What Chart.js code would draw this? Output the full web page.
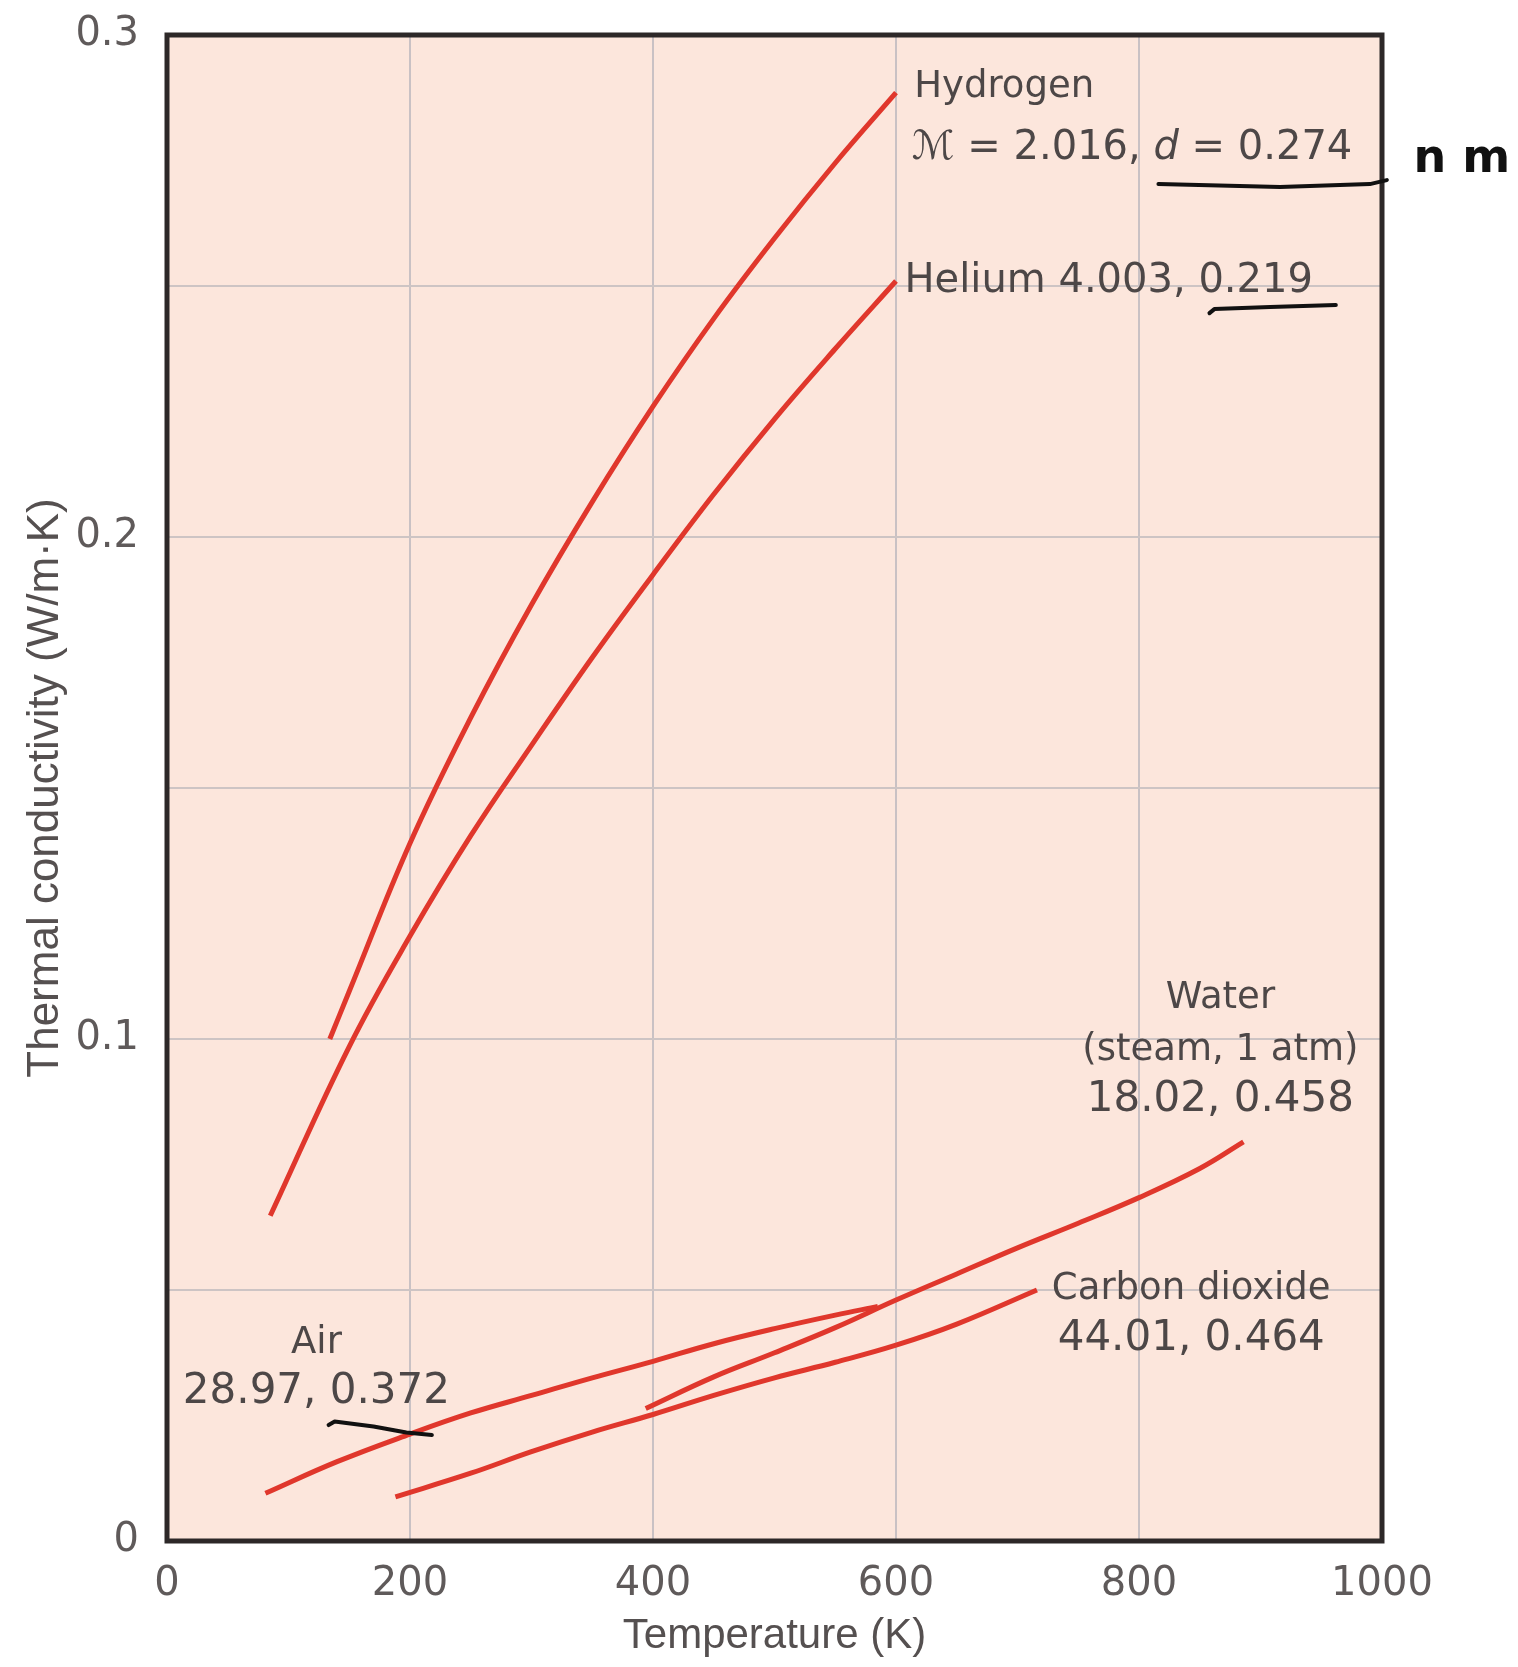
<!DOCTYPE html>
<html>
<head>
<meta charset="utf-8">
<script src="https://cdn.jsdelivr.net/npm/chart.js@4.4.1/dist/chart.umd.min.js"></script>
<style>
  html, body { margin: 0; padding: 0; background: #fff; }
  canvas { display: block; }
</style>
</head>
<body>
<canvas id="chart" width="1518" height="1667"></canvas>
<script>
// Thermal conductivity (W/m.K) against temperature (K)
const hydrogenT = [134, 150, 200, 250, 300, 350, 400, 450, 500, 550, 600];
const hydrogenK = [0.100, 0.1095, 0.139, 0.164, 0.1865, 0.207, 0.226, 0.2435, 0.2595, 0.2745, 0.2885];

const heliumT = [85, 150, 200, 250, 300, 350, 400, 450, 500, 550, 600];
const heliumK = [0.0648, 0.0985, 0.1205, 0.1405, 0.1585, 0.176, 0.1925, 0.2085, 0.2235, 0.2375, 0.251];

const airT = [81, 140, 200, 250, 300, 350, 400, 450, 500, 550, 585];
const airK = [0.0095, 0.0158, 0.0213, 0.0255, 0.029, 0.0325, 0.0358, 0.0393, 0.0423, 0.045, 0.0467];

const waterT = [394, 450, 500, 550, 600, 650, 700, 750, 800, 850, 886];
const waterK = [0.0264, 0.0327, 0.0375, 0.0425, 0.048, 0.0532, 0.0584, 0.0633, 0.0684, 0.0742, 0.0795];

const co2T = [188, 250, 300, 350, 400, 450, 500, 550, 600, 650, 716];
const co2K = [0.0088, 0.0135, 0.0178, 0.0217, 0.0252, 0.029, 0.0325, 0.0356, 0.039, 0.0432, 0.050];

const xTicks = [0, 200, 400, 600, 800, 1000];
const yTicks = [0, 0.1, 0.2, 0.3];

const RED = '#e0372c';
const TEXT = '#4d4747';

const toPoints = (xs, ys) => xs.map((x, i) => ({ x, y: ys[i] }));

function curve(label, xs, ys) {
  return {
    label,
    data: toPoints(xs, ys),
    showLine: true,
    borderColor: RED,
    borderWidth: 5,
    pointRadius: 0,
    tension: 0.4,
    borderCapStyle: 'butt'
  };
}

// curve labels, placed in data units (K, W/m.K)
const curveLabels = [
  { runs: [['Hydrogen', '']], x: 615, y: 0.2896, align: 'left', size: 37 },
  { runs: [['ℳ', 'italic '], [' = 2.016, ', ''], ['d', 'italic '], [' = 0.274', '']], x: 613, y: 0.2773, align: 'left', size: 40 },
  { runs: [['Helium 4.003, 0.219', '']], x: 607, y: 0.2508, align: 'left', size: 40 },
  { runs: [['Water', '']], x: 867, y: 0.108, align: 'center', size: 37 },
  { runs: [['(steam, 1 atm)', '']], x: 867, y: 0.0978, align: 'center', size: 37 },
  { runs: [['18.02, 0.458', '']], x: 867, y: 0.0878, align: 'center', size: 42 },
  { runs: [['Carbon dioxide', '']], x: 843, y: 0.0502, align: 'center', size: 37 },
  { runs: [['44.01, 0.464', '']], x: 843, y: 0.0402, align: 'center', size: 42 },
  { runs: [['Air', '']], x: 123, y: 0.0394, align: 'center', size: 37 },
  { runs: [['28.97, 0.372', '']], x: 123, y: 0.0297, align: 'center', size: 42 }
];

// hand-drawn pen marks on the scan
const penStrokes = [
  [[816, 0.2703], [916, 0.2697], [990, 0.2703], [1004, 0.2711]],
  [[858, 0.2446], [862, 0.2454], [908, 0.2458], [962, 0.2462]],
  [[133, 0.0231], [138, 0.0238], [170, 0.0228], [197, 0.0216], [218, 0.0211]]
];
const penNote = { text: 'n m', x: 1026, y: 0.2751 };

const plotFrame = {
  id: 'plotFrame',
  beforeDraw(chart) {
    const { ctx, chartArea: a } = chart;
    ctx.save();
    ctx.fillStyle = '#fce6dc';
    ctx.fillRect(a.left, a.top, a.right - a.left, a.bottom - a.top);
    ctx.restore();
  },
  afterDraw(chart) {
    const { ctx, chartArea: a, scales: { x, y } } = chart;
    ctx.save();
    ctx.strokeStyle = '#2d2828';
    ctx.lineWidth = 5;
    ctx.strokeRect(a.left, a.top, a.right - a.left, a.bottom - a.top);

    ctx.fillStyle = TEXT;
    ctx.textBaseline = 'middle';
    curveLabels.forEach(l => {
      const fonts = l.runs.map(r => r[1] + l.size + 'px "DejaVu Sans", sans-serif');
      const widths = l.runs.map((r, i) => { ctx.font = fonts[i]; return ctx.measureText(r[0]).width; });
      const total = widths.reduce((s, w) => s + w, 0);
      let px = x.getPixelForValue(l.x);
      if (l.align === 'center') px -= total / 2;
      const py = y.getPixelForValue(l.y);
      ctx.textAlign = 'left';
      l.runs.forEach((r, i) => {
        ctx.font = fonts[i];
        ctx.fillText(r[0], px, py);
        px += widths[i];
      });
    });

    ctx.strokeStyle = '#111';
    ctx.lineWidth = 4;
    ctx.lineCap = 'round';
    ctx.lineJoin = 'round';
    penStrokes.forEach(s => {
      ctx.beginPath();
      s.forEach((p, i) => {
        const px = x.getPixelForValue(p[0]);
        const py = y.getPixelForValue(p[1]);
        if (i === 0) ctx.moveTo(px, py); else ctx.lineTo(px, py);
      });
      ctx.stroke();
    });
    ctx.fillStyle = '#111';
    ctx.font = 'bold 46px "DejaVu Sans", sans-serif';
    ctx.textAlign = 'left';
    ctx.fillText(penNote.text, x.getPixelForValue(penNote.x), y.getPixelForValue(penNote.y));
    ctx.restore();
  }
};

new Chart(document.getElementById('chart'), {
  type: 'scatter',
  data: {
    datasets: [
      curve('Hydrogen', hydrogenT, hydrogenK),
      curve('Helium', heliumT, heliumK),
      curve('Air', airT, airK),
      curve('Water (steam, 1 atm)', waterT, waterK),
      curve('Carbon dioxide', co2T, co2K)
    ]
  },
  options: {
    responsive: false,
    animation: false,
    layout: { padding: { top: 35, right: 136, left: 0, bottom: 0 } },
    plugins: { legend: { display: false }, tooltip: { enabled: false } },
    scales: {
      x: {
        type: 'linear',
        min: 0,
        max: 1000,
        afterFit: s => { s.height = 126; },
        afterBuildTicks: s => { s.ticks = xTicks.map(v => ({ value: v })); },
        grid: { color: '#c9c1c4', lineWidth: 2, drawTicks: false },
        border: { display: false },
        ticks: {
          padding: 20,
          color: '#5f5a5a',
          font: { family: 'DejaVu Sans', size: 40 },
          callback: v => String(v)
        },
        title: {
          display: true,
          text: 'Temperature (K)',
          color: '#555050',
          font: { family: 'Liberation Sans', size: 42 },
          padding: { top: 0, bottom: 5 }
        }
      },
      y: {
        type: 'linear',
        min: 0,
        max: 0.3,
        afterFit: s => {
          s.width = 167;
          s.paddingTop = 0;
          s.paddingBottom = 0;
        },
        afterBuildTicks: s => {
          // gridlines every 0.05, labels only on the tenths
          const steps = [0, 0.05, 0.1, 0.15, 0.2, 0.25, 0.3];
          s.ticks = steps.map(v => ({ value: v }));
        },
        grid: { color: '#cdc4c4', lineWidth: 2, drawTicks: false },
        border: { display: false },
        ticks: {
          padding: 28,
          color: '#5f5a5a',
          font: { family: 'DejaVu Sans', size: 40 },
          callback: v => {
            const hit = yTicks.find(t => Math.abs(t - v) < 1e-9);
            return hit === undefined ? '' : String(hit);
          }
        },
        title: {
          display: true,
          text: 'Thermal conductivity (W/m·K)',
          color: '#555050',
          font: { family: 'Liberation Sans', size: 44 },
          padding: { top: 19, bottom: 0 }
        }
      }
    }
  },
  plugins: [plotFrame]
});
</script>
</body>
</html>
